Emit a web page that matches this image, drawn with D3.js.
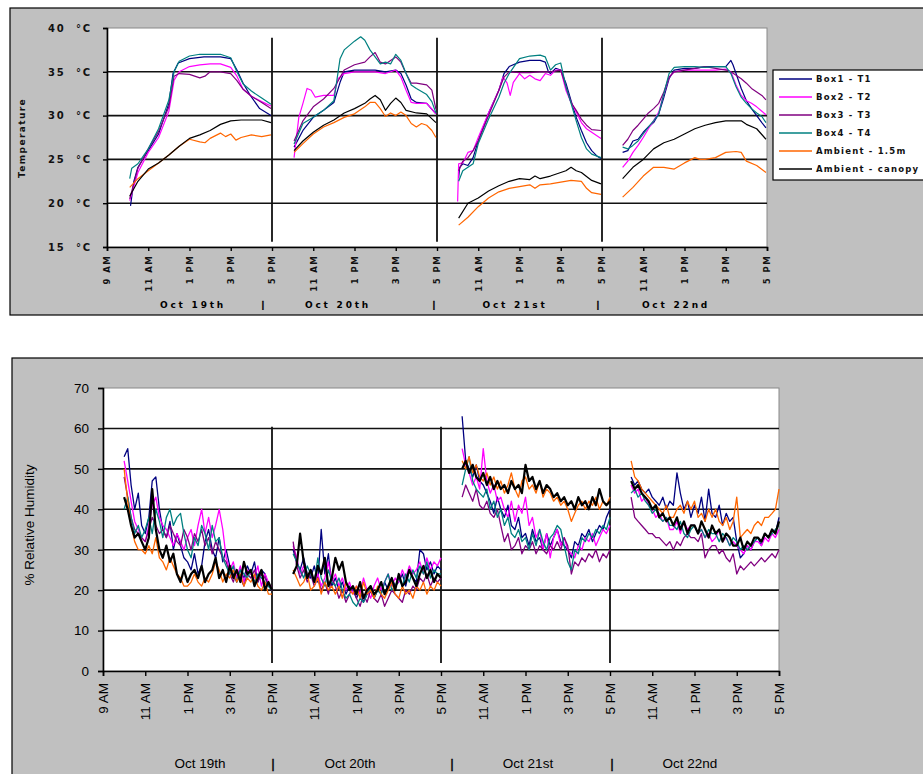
<!DOCTYPE html>
<html>
<head>
<meta charset="utf-8">
<script src="https://cdn.jsdelivr.net/npm/d3@7/dist/d3.min.js"></script>
<style>
  body { margin: 0; background: #fff; }
  svg { display: block; }
  .small { font-family: 'DejaVu Sans', Verdana, sans-serif; font-size: 8.5px; font-weight: bold; letter-spacing: 1.4px; white-space: pre; fill: #111; }
  .big { font-family: Arial, 'Liberation Sans', sans-serif; font-size: 13.5px; white-space: pre; fill: #000; }
</style>
</head>
<body>
<div id="chart"></div>
<script>
// ---- data ----
const days = ['Oct 19th', 'Oct 20th', 'Oct 21st', 'Oct 22nd'];
const seriesNames = ['Box1 - T1', 'Box2 - T2', 'Box3 - T3', 'Box4 - T4', 'Ambient - 1.5m', 'Ambient - canopy'];
const seriesColors = ['#000080', '#ff00ff', '#800080', '#008080', '#ff6600', '#000000'];
const tempTicks = [15, 20, 25, 30, 35, 40];
const rhTicks = [0, 10, 20, 30, 40, 50, 60, 70];
// x position = 2-hour slots, 9AM..5PM per day, nights collapsed
const hourTicks = [0, 2, 4, 6, 8, 10, 12, 14, 16, 18, 20, 22, 24, 26, 28, 30, 32];
const hourTickLabels = ['9 AM', '11 AM', '1 PM', '3 PM', '5 PM', '11 AM', '1 PM', '3 PM', '5 PM',
  '11 AM', '1 PM', '3 PM', '5 PM', '11 AM', '1 PM', '3 PM', '5 PM'];

// temperature, [hour of day, deg C], one list per day
const tempBox1 = [
  [[10.14,19.7],[10.3,22.5],[10.5,24.1],[11,26.0],[11.5,27.9],[12,31.4],[12.2,34.8],[12.45,36.0],[13,36.5],[13.7,36.7],[14.5,36.7],[15,36.5],[15.3,35.2],[15.6,33.7],[15.95,32.3],[16.4,30.8],[16.95,30.0]],
  [[10.07,26.4],[10.5,28.3],[11,29.8],[11.5,30.6],[12,31.5],[12.3,33.8],[12.5,35.0],[13,35.2],[13.5,35.2],[14,35.2],[14.5,35.0],[15,35.2],[15.25,34.8],[15.5,33.5],[15.75,31.9],[16,31.5],[16.5,31.4],[16.95,30.2]],
  [[10.05,22.9],[10.1,24.1],[10.25,24.5],[10.5,24.3],[10.75,25.2],[11,27.1],[11.5,30.3],[12,32.9],[12.25,34.8],[12.5,35.6],[13,36.1],[13.5,36.3],[14,36.3],[14.25,36.1],[14.4,35.0],[14.5,34.8],[14.75,35.4],[15,35.2],[15.25,33.7],[15.5,31.7],[15.75,29.8],[16,28.3],[16.25,26.9],[16.5,26.0],[16.75,25.4],[16.95,25.1]],
  [[10,25.8],[10.25,26.0],[10.5,27.1],[10.75,27.3],[11,28.1],[11.25,28.7],[11.5,29.2],[11.75,30.2],[12,32.1],[12.25,34.2],[12.5,35.2],[13,35.4],[13.5,35.4],[14,35.6],[14.5,35.6],[15,35.6],[15.25,36.3],[15.35,35.8],[15.5,34.8],[15.75,33.1],[16,31.7],[16.25,30.8],[16.5,30.0],[16.75,29.2],[16.95,28.6]]
];
const tempBox2 = [
  [[10.1,20.3],[10.5,23.5],[11,25.8],[11.5,27.5],[12,30.5],[12.25,34.0],[12.5,35.0],[13,35.6],[13.5,35.8],[14,35.9],[14.5,35.9],[15,35.5],[15.3,34.5],[15.6,33.0],[16,32.2],[16.5,31.6],[16.95,31.1]],
  [[10.07,25.2],[10.3,29.8],[10.5,31.4],[10.7,33.1],[10.9,32.9],[11.1,32.1],[11.5,32.3],[12,32.3],[12.2,34.2],[12.5,34.8],[13,35.0],[13.5,35.0],[14,35.0],[14.5,34.8],[15,35.2],[15.25,34.4],[15.5,32.9],[15.75,31.5],[16,31.4],[16.5,31.4],[16.95,30.2]],
  [[10.0,20.2],[10.05,24.5],[10.25,24.6],[10.5,25.8],[10.75,26.0],[11,27.5],[11.5,30.3],[12,32.9],[12.2,34.4],[12.4,33.7],[12.55,32.3],[12.7,33.8],[13,34.8],[13.25,34.2],[13.5,34.6],[13.75,34.2],[14,34.0],[14.25,34.8],[14.5,34.6],[14.75,35.2],[15,35.2],[15.25,32.9],[15.5,31.5],[15.75,30.4],[16,29.2],[16.25,28.5],[16.5,28.1],[16.95,27.4]],
  [[10,24.1],[10.25,24.8],[10.5,25.8],[10.75,26.6],[11,27.5],[11.25,28.5],[11.5,29.4],[11.75,30.4],[12,32.5],[12.25,34.4],[12.5,35.0],[13,35.2],[13.5,35.2],[14,35.2],[14.5,35.2],[15,35.3],[15.25,35.0],[15.5,33.5],[15.75,32.3],[16,31.7],[16.25,31.4],[16.5,31.0],[16.75,30.5],[16.95,30.1]]
];
const tempBox3 = [
  [[10.1,20.5],[10.5,24.0],[11,26.2],[11.5,28.2],[12,31.0],[12.25,34.5],[12.5,34.8],[13,34.7],[13.5,34.3],[13.75,34.5],[14,35.0],[14.5,35.0],[15,34.8],[15.3,34.0],[15.6,33.0],[16,32.2],[16.5,31.5],[16.95,30.8]],
  [[10.07,27.1],[10.5,29.4],[11,31.0],[11.5,31.9],[12,33.1],[12.5,35.2],[13,35.8],[13.5,36.1],[13.75,36.7],[14,37.2],[14.25,36.1],[14.5,35.9],[14.75,36.3],[15,36.7],[15.25,36.1],[15.5,34.8],[15.75,33.7],[16,33.7],[16.5,33.5],[16.75,32.9],[16.95,30.7]],
  [[10.05,23.7],[10.25,24.8],[10.5,25.2],[10.75,26.0],[11,27.1],[11.5,30.0],[12,32.9],[12.25,34.4],[12.5,35.0],[13,34.9],[13.5,34.9],[14,35.0],[14.5,35.0],[15,35.2],[15.25,33.3],[15.5,31.5],[15.75,30.6],[16,29.6],[16.25,28.9],[16.5,28.4],[16.95,28.3]],
  [[10,26.6],[10.25,27.3],[10.5,28.3],[10.75,28.9],[11,29.6],[11.25,30.3],[11.5,30.8],[11.75,31.4],[12,32.7],[12.25,34.4],[12.5,35.0],[13,35.2],[13.5,35.4],[14,35.6],[14.5,35.4],[15,35.2],[15.25,35.0],[15.5,34.6],[15.75,34.2],[16,33.7],[16.25,33.1],[16.5,32.7],[16.75,32.3],[16.95,31.8]]
];
const tempBox4 = [
  [[10.1,22.8],[10.2,24.0],[10.5,24.5],[11,26.2],[11.5,28.5],[12,31.8],[12.25,35.0],[12.5,36.2],[13,36.8],[13.5,37.0],[14,37.0],[14.5,37.0],[15,36.6],[15.3,35.0],[15.6,33.6],[16,32.8],[16.5,32.0],[16.95,31.3]],
  [[10.07,26.75],[10.5,29.1],[11,29.8],[11.5,30.6],[12,31.7],[12.3,36.5],[12.5,37.5],[13,38.5],[13.3,39.0],[13.5,38.6],[13.75,37.5],[14,36.7],[14.25,35.9],[14.5,36.1],[14.75,35.9],[15,37.0],[15.25,36.3],[15.5,34.8],[15.75,33.5],[16,33.1],[16.5,32.4],[16.75,31.6],[16.95,30.3]],
  [[10.05,22.5],[10.25,23.7],[10.5,24.1],[10.75,24.5],[11,26.8],[11.5,29.6],[12,32.1],[12.25,33.7],[12.5,34.8],[13,36.5],[13.5,36.8],[14,36.9],[14.25,36.7],[14.5,35.2],[14.75,35.8],[15,36.0],[15.25,33.3],[15.5,31.4],[15.75,29.4],[16,27.5],[16.25,26.2],[16.5,25.6],[16.95,25.2]],
  [[10,26.4],[10.25,26.2],[10.5,26.6],[10.75,27.1],[11,27.9],[11.25,28.7],[11.5,29.4],[11.75,30.2],[12,32.5],[12.25,34.8],[12.5,35.5],[13,35.6],[13.5,35.6],[14,35.5],[14.5,35.6],[15,35.6],[15.25,34.8],[15.5,33.3],[15.75,32.1],[16,31.4],[16.25,30.8],[16.5,30.3],[16.75,29.9],[16.95,29.2]]
];
const tempAmb15 = [
  [[10.1,21.8],[10.5,22.8],[11,23.7],[11.5,24.6],[12,25.5],[12.5,26.5],[13,27.3],[13.5,27.0],[13.75,26.9],[14,27.4],[14.5,28.0],[14.75,27.6],[15,27.9],[15.25,27.2],[15.5,27.5],[16,27.8],[16.5,27.6],[16.95,27.8]],
  [[10.07,25.8],[10.5,26.8],[11,27.9],[11.5,28.7],[12,29.2],[12.5,29.8],[13,30.2],[13.5,31.0],[13.75,31.5],[14,31.5],[14.25,30.8],[14.5,29.9],[14.75,30.3],[15,30.0],[15.25,30.4],[15.5,30.0],[15.75,29.1],[16,28.7],[16.25,29.1],[16.5,28.9],[16.75,28.3],[16.95,27.5]],
  [[10.05,17.5],[10.5,18.4],[11,19.6],[11.5,20.6],[12,21.3],[12.5,21.7],[13,21.9],[13.5,22.1],[13.75,21.7],[14,22.1],[14.5,22.2],[15,22.4],[15.5,22.6],[16,22.5],[16.25,21.7],[16.5,21.2],[16.95,21.0]],
  [[10,20.7],[10.5,21.8],[11,23.1],[11.5,24.1],[12,24.1],[12.5,23.9],[13,24.6],[13.5,25.2],[13.75,25.0],[14,25.0],[14.5,25.2],[15,25.8],[15.5,25.9],[15.75,25.8],[16,24.8],[16.5,24.3],[16.95,23.5]]
];
const tempAmbCanopy = [
  [[10.1,20.8],[10.5,22.5],[11,23.9],[11.5,24.6],[12,25.5],[12.5,26.5],[13,27.4],[13.5,27.8],[14,28.3],[14.5,29.0],[15,29.4],[15.5,29.5],[16,29.5],[16.5,29.5],[16.95,29.2]],
  [[10.07,26.0],[10.5,27.1],[11,28.1],[11.5,28.9],[12,29.5],[12.5,30.3],[13,30.8],[13.5,31.4],[13.75,31.9],[14,32.3],[14.25,31.8],[14.5,30.6],[14.75,31.4],[15,32.0],[15.25,31.5],[15.5,30.6],[16,30.3],[16.5,30.2],[16.95,29.2]],
  [[10.05,18.3],[10.5,20.0],[11,20.6],[11.5,21.4],[12,22.0],[12.5,22.5],[13,22.8],[13.5,22.7],[13.75,23.1],[14,22.8],[14.5,23.1],[15,23.5],[15.25,23.7],[15.5,24.1],[15.75,23.7],[16,23.5],[16.5,22.6],[16.95,22.2]],
  [[10,22.8],[10.5,24.1],[11,25.0],[11.5,26.2],[12,26.9],[12.5,27.3],[13,27.9],[13.5,28.5],[14,28.9],[14.5,29.2],[15,29.4],[15.5,29.4],[15.75,29.4],[16,29.0],[16.5,28.5],[16.95,27.3]]
];

// relative humidity, readings every 10 minutes 10:00 - 17:00
const rhHours = [10.0, 10.17, 10.33, 10.5, 10.67, 10.83, 11.0, 11.17, 11.33, 11.5, 11.67, 11.83,
  12.0, 12.17, 12.33, 12.5, 12.67, 12.83, 13.0, 13.17, 13.33, 13.5, 13.67, 13.83,
  14.0, 14.17, 14.33, 14.5, 14.67, 14.83, 15.0, 15.17, 15.33, 15.5, 15.67, 15.83,
  16.0, 16.17, 16.33, 16.5, 16.67, 16.83, 17.0];
const rhBox1 = [
  [53,55,46,40,44,36, 34,38,47,48,40,35, 33,37,30,34,31,28, 27,25,29,24,26,32, 35,30,28,33,27,30, 26,24,22,25,23,26, 24,27,22,25,24,21, 20],
  [30,27,25,28,24,23, 26,22,35,24,29,21, 23,20,22,19,21,20, 18,20,17,19,21,18, 20,19,22,20,23,21, 22,24,21,25,23,22, 30,29,25,27,24,26, 25],
  [63,52,50,48,51,47, 46,44,42,39,43,40, 38,41,36,35,38,33, 34,31,35,32,33,30, 34,31,33,35,32,31, 30,28,32,31,34,33, 35,32,34,36,35,38, 40],
  [48,46,47,45,44,45, 43,42,41,43,40,42, 41,49,44,40,42,38, 41,39,43,37,45,39, 38,41,36,39,37,38, 32,28,29,31,30,32, 33,31,34,33,35,34, 38]
];
const rhBox2 = [
  [52,47,42,37,35,33, 32,36,41,43,38,36, 35,33,31,34,32,30, 33,35,31,36,40,34, 38,33,36,40,35,28, 25,27,23,26,22,25, 24,23,26,21,24,22, 20],
  [31,28,24,26,23,25, 22,24,21,23,27,22, 24,21,23,20,22,19, 21,19,23,20,18,21, 23,20,22,24,21,23, 22,25,23,26,24,25, 27,24,28,25,27,26, 28],
  [55,51,49,46,48,45, 55,47,44,46,42,43, 40,38,42,37,41,39, 43,36,38,33,35,30, 34,28,33,35,31,33, 30,29,28,31,30,33, 32,34,31,33,35,34, 36],
  [46,44,45,42,43,41, 40,38,39,37,38,35, 35,37,34,37,35,36, 36,34,35,33,34,32, 33,35,32,33,31,32, 31,30,29,31,30,32, 32,31,33,32,34,33, 35]
];
const rhBox3 = [
  [48,43,38,35,34,33, 32,35,38,36,34,35, 33,36,34,32,31,35, 33,30,34,32,35,31, 33,29,32,30,28,27, 24,22,25,23,21,24, 23,25,22,24,23,21, 21],
  [32,26,23,25,22,24, 21,23,20,22,19,23, 21,18,20,17,19,21, 18,16,19,17,20,18, 17,19,16,18,20,19, 18,17,20,19,21,20, 23,22,24,21,23,22, 23],
  [43,46,44,42,45,41, 40,42,39,38,40,36, 32,34,30,31,33,29, 31,30,32,29,31,30, 29,31,30,32,30,33, 31,24,27,26,28,27, 29,28,30,27,29,28, 30],
  [43,38,37,36,35,34, 34,33,33,32,31,32, 30,32,31,33,34,33, 33,32,34,28,30,31, 31,29,30,28,27,29, 24,26,25,26,27,26, 27,28,27,28,29,28, 30]
];
const rhBox4 = [
  [40,43,38,34,36,33, 35,38,34,40,37,33, 38,40,36,38,39,34, 30,28,33,31,36,34, 30,36,32,33,28,26, 24,26,22,25,24,23, 25,22,24,23,22,21, 20],
  [29,27,25,23,26,24, 22,28,23,21,25,22, 21,23,20,18,19,17, 16,18,17,19,21,18, 20,19,22,24,20,21, 23,21,24,22,25,23, 26,24,27,23,25,24, 24],
  [46,50,53,47,45,44, 43,45,40,42,38,40, 36,38,34,33,35,32, 33,30,34,31,35,32, 30,33,34,36,35,31, 27,25,30,29,33,32, 34,33,35,34,36,35, 38],
  [44,45,43,44,42,41, 39,40,38,37,38,36, 36,35,37,34,33,35, 36,34,35,33,35,34, 34,32,34,33,31,33, 32,30,31,30,31,32, 33,32,34,33,34,35, 36]
];
const rhAmb15 = [
  [50,42,36,32,30,30, 29,31,29,33,28,27, 25,28,26,24,23,21, 21,22,24,22,21,23, 22,24,27,25,22,24, 23,25,22,24,21,23, 22,24,21,20,22,19, 19],
  [25,23,21,22,24,20, 21,23,19,22,20,21, 19,21,18,22,20,19, 21,18,22,19,20,18, 21,19,18,20,22,19, 18,21,19,20,18,21, 20,22,19,21,20,22, 21],
  [52,50,53,49,51,48, 47,49,46,48,45,47, 44,46,49,45,43,47, 48,45,46,44,47,43, 45,44,42,43,41,42, 40,37,39,41,42,40, 42,41,43,40,42,41, 43],
  [52,48,47,45,44,43, 42,41,40,39,41,38, 38,40,41,39,42,40, 42,38,39,37,40,38, 40,37,36,38,35,37, 43,33,34,35,34,36, 37,36,38,38,39,40, 45]
];
const rhAmbCanopy = [
  [43,40,36,33,34,32, 30,33,45,35,30,28, 31,27,29,24,22,25, 22,24,25,23,26,22, 24,25,28,23,25,22, 26,23,25,22,27,24, 25,21,23,25,20,22, 20],
  [24,26,34,27,23,25, 22,26,24,28,21,23, 28,25,27,22,20,21, 19,22,18,20,21,19, 20,22,19,21,23,20, 24,21,22,25,23,21, 24,26,23,25,22,24, 23],
  [50,52,49,51,48,47, 49,46,48,45,47,45, 46,44,47,45,46,44, 51,47,48,45,47,44, 46,45,43,44,42,43, 41,42,40,43,41,42, 40,43,41,45,42,41, 42],
  [47,45,46,44,43,42, 40,41,38,39,37,38, 36,38,35,37,34,36, 36,34,37,35,33,36, 34,35,32,34,33,31, 31,33,30,32,31,33, 33,32,34,33,35,34, 37]
];

const tempSeries = [tempBox1, tempBox2, tempBox3, tempBox4, tempAmb15, tempAmbCanopy];
const rhSeries = [rhBox1, rhBox2, rhBox3, rhBox4, rhAmb15, rhAmbCanopy];

// ---- chart ----
const W = 923;
const H = 774;
const slot = (day, hour) => day * 8 + (hour - 9);

const svg = d3.select('#chart').append('svg')
  .attr('width', W)
  .attr('height', H);

function panel(cfg) {
  // gray chart frame
  svg.append('rect')
    .attr('x', cfg.frame[0]).attr('y', cfg.frame[1])
    .attr('width', cfg.frame[2]).attr('height', cfg.frame[3])
    .attr('fill', '#c0c0c0')
    .attr('stroke', '#000')
    .attr('stroke-width', 1.2);

  const x = d3.scaleLinear().domain([0, 32]).range([cfg.left, cfg.right]);
  const y = d3.scaleLinear().domain(cfg.yDomain).range([cfg.bottom, cfg.top]);

  const g = svg.append('g');

  g.append('rect')
    .attr('x', cfg.left).attr('y', cfg.top)
    .attr('width', cfg.right - cfg.left).attr('height', cfg.bottom - cfg.top)
    .attr('fill', '#fff')
    .attr('stroke', '#888')
    .attr('stroke-width', 1);

  // gridlines
  g.selectAll('.grid')
    .data(cfg.yTicks.slice(1, -1))
    .enter().append('line')
    .attr('x1', cfg.left).attr('x2', cfg.right)
    .attr('y1', d => y(d)).attr('y2', d => y(d))
    .attr('stroke', '#111')
    .attr('stroke-width', 1.6);

  // day separators
  g.selectAll('.sep')
    .data([8, 16, 24])
    .enter().append('line')
    .attr('x1', d => x(d)).attr('x2', d => x(d))
    .attr('y1', y(cfg.sepRange[1])).attr('y2', y(cfg.sepRange[0]))
    .attr('stroke', '#111')
    .attr('stroke-width', 1.8);

  // series
  const line = d3.line()
    .x(d => x(d[0]))
    .y(d => y(d[1]));

  cfg.series.forEach((s, i) => {
    s.forEach((dayData, di) => {
      const pts = cfg.points(dayData, di);
      g.append('path')
        .datum(pts)
        .attr('fill', 'none')
        .attr('stroke', seriesColors[i])
        .attr('stroke-width', i === 5 ? cfg.blackWidth : cfg.lineWidth)
        .attr('stroke-linejoin', 'round')
        .attr('d', line);
    });
  });

  // axes
  const yAxis = d3.axisLeft(y)
    .tickValues(cfg.yTicks)
    .tickSize(cfg.tickLen)
    .tickFormat(cfg.yFormat);

  const yG = g.append('g')
    .attr('transform', `translate(${cfg.left},0)`)
    .call(yAxis);
  yG.select('.domain').attr('stroke', '#000').attr('stroke-width', 1.6);
  yG.selectAll('.tick line').attr('stroke', '#000').attr('stroke-width', 1.4);
  yG.selectAll('text')
    .attr('class', cfg.fontClass)
    .attr('fill', null)
    .attr('x', -cfg.yLabelGap)
    .style('font-size', cfg.yTickSize)
    .style('letter-spacing', cfg.yTickLetter);

  const xAxis = d3.axisBottom(x)
    .tickValues(hourTicks)
    .tickSize(cfg.tickLen)
    .tickFormat((d, i) => hourTickLabels[i]);

  const xG = g.append('g')
    .attr('transform', `translate(0,${cfg.bottom})`)
    .call(xAxis);
  xG.select('.domain').attr('stroke', '#000').attr('stroke-width', 1.6);
  xG.selectAll('.tick line').attr('stroke', '#000').attr('stroke-width', 1.4);
  xG.selectAll('text')
    .attr('class', cfg.fontClass)
    .attr('fill', null)
    .attr('transform', 'rotate(-90)')
    .attr('text-anchor', 'end')
    .attr('x', -cfg.xLabelGap)
    .attr('y', 0)
    .attr('dy', '0.35em');
  xG.attr('font-size', null).attr('font-family', null);
  yG.attr('font-size', null).attr('font-family', null);

  // y title
  svg.append('text')
    .attr('class', cfg.fontClass)
    .attr('transform', `translate(${cfg.yTitlePos[0]},${cfg.yTitlePos[1]}) rotate(-90)`)
    .attr('text-anchor', 'middle')
    .style('font-size', cfg.yTitleSize)
    .text(cfg.yTitle);

  // day captions under the axis
  const caps = [];
  days.forEach((d, i) => {
    caps.push({ t: cfg.dayPos[i], s: d });
    if (i < 3) caps.push({ t: cfg.barPos[i], s: '|' });
  });
  svg.selectAll(null)
    .data(caps)
    .enter().append('text')
    .attr('class', cfg.fontClass)
    .attr('x', d => Math.round(x(d.t)))
    .attr('y', cfg.dayY)
    .attr('text-anchor', 'middle')
    .style('letter-spacing', d => d.s === '|' ? '0px' : cfg.dayLetter)
    .style('font-size', cfg.daySize)
    .style('fill', '#000')
    // outline the bar glyph so it renders as plain black
    .style('stroke', d => d.s === '|' ? '#000' : 'none')
    .style('stroke-width', 0.4)
    .text(d => d.s);

  return { x, y };
}

// Temperature
panel({
  frame: [10, 8, 930, 307],
  left: 107, right: 767, top: 28, bottom: 247,
  yDomain: [15, 40],
  yTicks: tempTicks,
  yFormat: d => `${d}  °C`,
  yTickSize: '10px',
  yTickLetter: '1.8px',
  sepRange: [15.6, 38.9],
  series: tempSeries,
  points: (arr, di) => arr.map(p => [slot(di, p[0]), p[1]]),
  lineWidth: 1.2,
  blackWidth: 1.2,
  tickLen: 4,
  yLabelGap: 15,
  xLabelGap: 8,
  fontClass: 'small',
  yTitle: 'Temperature',
  yTitleSize: '9px',
  yTitlePos: [25, 138],
  dayPos: [4.17, 11.2, 19.78, 27.6],
  barPos: [7.56, 15.85, 23.8],
  dayY: 308,
  dayLetter: '2.8px',
  daySize: '9px'
});

// legend for the temperature chart
const legend = svg.append('g').attr('transform', 'translate(773,70)');
legend.append('rect')
  .attr('width', 170).attr('height', 110)
  .attr('fill', '#fff').attr('stroke', '#000').attr('stroke-width', 1.2);
const item = legend.selectAll('.item')
  .data(seriesNames)
  .enter().append('g')
  .attr('transform', (d, i) => `translate(6,${9 + i * 18})`);
item.append('line')
  .attr('x1', 0).attr('x2', 33)
  .attr('stroke', (d, i) => seriesColors[i])
  .attr('stroke-width', 1.5);
item.append('text')
  .attr('class', 'small')
  .attr('x', 37)
  .attr('dy', '0.35em')
  .style('letter-spacing', '1.2px')
  .text(d => d);

// Relative humidity
panel({
  frame: [12, 358, 930, 430],
  left: 103, right: 779, top: 388, bottom: 671,
  yDomain: [0, 70],
  yTicks: rhTicks,
  yFormat: d => d,
  yTickSize: null,
  yTickLetter: null,
  sepRange: [2, 60.4],
  series: rhSeries,
  points: (arr, di) => arr.map((v, k) => [slot(di, rhHours[k]), v]),
  lineWidth: 1.3,
  blackWidth: 2.2,
  tickLen: 5,
  yLabelGap: 14,
  xLabelGap: 12,
  fontClass: 'big',
  yTitle: '% Relative Humidity',
  yTitleSize: null,
  yTitlePos: [34, 525],
  dayPos: [4.6, 11.7, 20.1, 27.8],
  barPos: [8.05, 16.5, 24.1],
  dayY: 768,
  dayLetter: '0px',
  daySize: '13.5px'
});
</script>
</body>
</html>
